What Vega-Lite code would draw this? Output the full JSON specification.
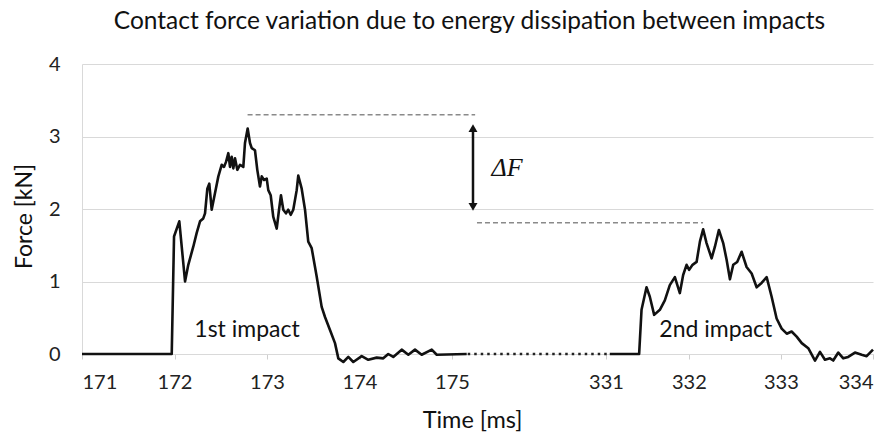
{
  "$schema": "https://vega.github.io/schema/vega-lite/v6.json",
  "width": 791,
  "height": 290,
  "autosize": {"type": "none"},
  "padding": {"left": 82, "top": 64, "right": 12, "bottom": 79},
  "title": {
    "text": "Contact force variation due to energy dissipation between impacts",
    "font": "Lato", "fontSize": 24.5, "fontWeight": "normal", "color": "#111",
    "anchor": "middle", "dx": -8, "offset": 20
  },
  "config": {"view": {"stroke": null}},
  "datasets": {
    "curve": [
      {"t": 171, "F": 0, "impact": "1st"},
      {"t": 171.97, "F": 0, "impact": "1st"},
      {"t": 171.995, "F": 1.62, "impact": "1st"},
      {"t": 172.052, "F": 1.83, "impact": "1st"},
      {"t": 172.114, "F": 1.0, "impact": "1st"},
      {"t": 172.149, "F": 1.23, "impact": "1st"},
      {"t": 172.203, "F": 1.48, "impact": "1st"},
      {"t": 172.24, "F": 1.67, "impact": "1st"},
      {"t": 172.276, "F": 1.83, "impact": "1st"},
      {"t": 172.311, "F": 1.87, "impact": "1st"},
      {"t": 172.33, "F": 1.94, "impact": "1st"},
      {"t": 172.355, "F": 2.28, "impact": "1st"},
      {"t": 172.376, "F": 2.35, "impact": "1st"},
      {"t": 172.402, "F": 1.99, "impact": "1st"},
      {"t": 172.438, "F": 2.22, "impact": "1st"},
      {"t": 172.474, "F": 2.45, "impact": "1st"},
      {"t": 172.51, "F": 2.61, "impact": "1st"},
      {"t": 172.535, "F": 2.58, "impact": "1st"},
      {"t": 172.557, "F": 2.65, "impact": "1st"},
      {"t": 172.582, "F": 2.77, "impact": "1st"},
      {"t": 172.6, "F": 2.58, "impact": "1st"},
      {"t": 172.618, "F": 2.72, "impact": "1st"},
      {"t": 172.636, "F": 2.56, "impact": "1st"},
      {"t": 172.654, "F": 2.7, "impact": "1st"},
      {"t": 172.679, "F": 2.54, "impact": "1st"},
      {"t": 172.708, "F": 2.61, "impact": "1st"},
      {"t": 172.744, "F": 2.58, "impact": "1st"},
      {"t": 172.762, "F": 2.91, "impact": "1st"},
      {"t": 172.791, "F": 3.11, "impact": "1st"},
      {"t": 172.816, "F": 2.91, "impact": "1st"},
      {"t": 172.835, "F": 2.84, "impact": "1st"},
      {"t": 172.87, "F": 2.81, "impact": "1st"},
      {"t": 172.895, "F": 2.54, "impact": "1st"},
      {"t": 172.924, "F": 2.31, "impact": "1st"},
      {"t": 172.943, "F": 2.45, "impact": "1st"},
      {"t": 172.968, "F": 2.4, "impact": "1st"},
      {"t": 172.997, "F": 2.42, "impact": "1st"},
      {"t": 173.014, "F": 2.26, "impact": "1st"},
      {"t": 173.04, "F": 2.19, "impact": "1st"},
      {"t": 173.068, "F": 1.89, "impact": "1st"},
      {"t": 173.105, "F": 1.73, "impact": "1st"},
      {"t": 173.13, "F": 1.99, "impact": "1st"},
      {"t": 173.151, "F": 2.19, "impact": "1st"},
      {"t": 173.176, "F": 1.99, "impact": "1st"},
      {"t": 173.205, "F": 1.94, "impact": "1st"},
      {"t": 173.23, "F": 1.99, "impact": "1st"},
      {"t": 173.256, "F": 1.92, "impact": "1st"},
      {"t": 173.284, "F": 1.99, "impact": "1st"},
      {"t": 173.321, "F": 2.26, "impact": "1st"},
      {"t": 173.338, "F": 2.46, "impact": "1st"},
      {"t": 173.375, "F": 2.28, "impact": "1st"},
      {"t": 173.411, "F": 1.99, "impact": "1st"},
      {"t": 173.446, "F": 1.55, "impact": "1st"},
      {"t": 173.483, "F": 1.46, "impact": "1st"},
      {"t": 173.537, "F": 1.07, "impact": "1st"},
      {"t": 173.591, "F": 0.65, "impact": "1st"},
      {"t": 173.627, "F": 0.51, "impact": "1st"},
      {"t": 173.681, "F": 0.33, "impact": "1st"},
      {"t": 173.735, "F": 0.15, "impact": "1st"},
      {"t": 173.771, "F": -0.06, "impact": "1st"},
      {"t": 173.825, "F": -0.11, "impact": "1st"},
      {"t": 173.879, "F": -0.04, "impact": "1st"},
      {"t": 173.933, "F": -0.11, "impact": "1st"},
      {"t": 174.024, "F": -0.03, "impact": "1st"},
      {"t": 174.095, "F": -0.08, "impact": "1st"},
      {"t": 174.186, "F": -0.05, "impact": "1st"},
      {"t": 174.257, "F": -0.06, "impact": "1st"},
      {"t": 174.311, "F": 0, "impact": "1st"},
      {"t": 174.365, "F": -0.04, "impact": "1st"},
      {"t": 174.456, "F": 0.06, "impact": "1st"},
      {"t": 174.528, "F": -0.01, "impact": "1st"},
      {"t": 174.6, "F": 0.06, "impact": "1st"},
      {"t": 174.672, "F": -0.01, "impact": "1st"},
      {"t": 174.781, "F": 0.06, "impact": "1st"},
      {"t": 174.835, "F": -0.01, "impact": "1st"},
      {"t": 175.159, "F": 0, "impact": "1st"},
      {"t": 331.141, "F": 0, "impact": "2nd"},
      {"t": 331.46, "F": 0, "impact": "2nd"},
      {"t": 331.486, "F": 0.61, "impact": "2nd"},
      {"t": 331.54, "F": 0.92, "impact": "2nd"},
      {"t": 331.576, "F": 0.79, "impact": "2nd"},
      {"t": 331.623, "F": 0.54, "impact": "2nd"},
      {"t": 331.685, "F": 0.61, "impact": "2nd"},
      {"t": 331.739, "F": 0.74, "impact": "2nd"},
      {"t": 331.793, "F": 0.95, "impact": "2nd"},
      {"t": 331.848, "F": 1.06, "impact": "2nd"},
      {"t": 331.902, "F": 0.84, "impact": "2nd"},
      {"t": 331.938, "F": 1.09, "impact": "2nd"},
      {"t": 331.975, "F": 1.23, "impact": "2nd"},
      {"t": 332.003, "F": 1.16, "impact": "2nd"},
      {"t": 332.04, "F": 1.23, "impact": "2nd"},
      {"t": 332.084, "F": 1.27, "impact": "2nd"},
      {"t": 332.12, "F": 1.55, "impact": "2nd"},
      {"t": 332.155, "F": 1.72, "impact": "2nd"},
      {"t": 332.192, "F": 1.53, "impact": "2nd"},
      {"t": 332.247, "F": 1.32, "impact": "2nd"},
      {"t": 332.283, "F": 1.48, "impact": "2nd"},
      {"t": 332.326, "F": 1.71, "impact": "2nd"},
      {"t": 332.373, "F": 1.53, "impact": "2nd"},
      {"t": 332.41, "F": 1.3, "impact": "2nd"},
      {"t": 332.446, "F": 1.03, "impact": "2nd"},
      {"t": 332.482, "F": 1.23, "impact": "2nd"},
      {"t": 332.525, "F": 1.27, "impact": "2nd"},
      {"t": 332.573, "F": 1.41, "impact": "2nd"},
      {"t": 332.627, "F": 1.2, "impact": "2nd"},
      {"t": 332.682, "F": 1.11, "impact": "2nd"},
      {"t": 332.736, "F": 0.92, "impact": "2nd"},
      {"t": 332.79, "F": 0.98, "impact": "2nd"},
      {"t": 332.845, "F": 1.06, "impact": "2nd"},
      {"t": 332.899, "F": 0.79, "impact": "2nd"},
      {"t": 332.953, "F": 0.49, "impact": "2nd"},
      {"t": 333.008, "F": 0.35, "impact": "2nd"},
      {"t": 333.063, "F": 0.28, "impact": "2nd"},
      {"t": 333.116, "F": 0.31, "impact": "2nd"},
      {"t": 333.171, "F": 0.24, "impact": "2nd"},
      {"t": 333.226, "F": 0.15, "impact": "2nd"},
      {"t": 333.297, "F": 0.08, "impact": "2nd"},
      {"t": 333.37, "F": -0.09, "impact": "2nd"},
      {"t": 333.424, "F": 0.03, "impact": "2nd"},
      {"t": 333.478, "F": -0.08, "impact": "2nd"},
      {"t": 333.533, "F": -0.06, "impact": "2nd"},
      {"t": 333.568, "F": -0.09, "impact": "2nd"},
      {"t": 333.623, "F": 0.02, "impact": "2nd"},
      {"t": 333.677, "F": -0.06, "impact": "2nd"},
      {"t": 333.731, "F": -0.04, "impact": "2nd"},
      {"t": 333.804, "F": 0.02, "impact": "2nd"},
      {"t": 333.877, "F": -0.01, "impact": "2nd"},
      {"t": 333.931, "F": -0.03, "impact": "2nd"},
      {"t": 334.0, "F": 0.06, "impact": "2nd"}
    ],
    "gap": [
      {"t": 175.17, "F": 0},
      {"t": 331.13, "F": 0}
    ],
    "levels": [
      {"t": 172.79, "t2": 175.25, "F": 3.3},
      {"t": 175.27, "t2": 332.154, "F": 1.81}
    ],
    "arrow": [
      {"t": 175.227, "F": 3.117, "F2": 2.028}
    ],
    "labels": [
      {"t": 172.784, "F": 0.239, "label": "1st impact"},
      {"t": 332.293, "F": 0.239, "label": "2nd impact"}
    ],
    "delta": [
      {"t": 175.595, "F": 2.455, "label": "ΔF"}
    ]
  },
  "layer": [
    {
      "data": {"name": "curve"},
      "mark": {"type": "line", "color": "#111", "strokeWidth": 2.6, "strokeJoin": "round"},
      "encoding": {
        "x": {
          "field": "t", "type": "quantitative",
          "scale": {"domain": [171, 175.6, 331.1, 334], "range": [0, 425.5, 524, 791], "zero": false, "nice": false},
          "axis": {
            "title": "Time [ms]",
            "values": [171, 172, 173, 174, 175, 331, 332, 333, 334],
            "format": "d",
            "grid": false,
            "domainColor": "#d9d9d9",
            "tickColor": "#cfcfcf",
            "tickSize": 5,
            "labelFont": "Lato", "labelFontSize": 20, "labelColor": "#222",
            "labelPadding": 13, "labelDx": -4,
            "titleFont": "Lato", "titleFontSize": 23.5, "titleFontWeight": "normal", "titleColor": "#111",
            "titleX": 390, "titleY": 73, "titleBaseline": "alphabetic", "titleAlign": "center"
          }
        },
        "y": {
          "field": "F", "type": "quantitative",
          "scale": {"domain": [0, 4], "nice": false, "zero": false},
          "axis": {
            "title": "Force [kN]",
            "values": [0, 1, 2, 3, 4],
            "format": "d",
            "grid": true, "gridColor": "#d9d9d9",
            "domainColor": "#d9d9d9",
            "ticks": false,
            "labelFont": "Lato", "labelFontSize": 20, "labelColor": "#222",
            "labelPadding": 22,
            "titleFont": "Lato", "titleFontSize": 23, "titleFontWeight": "normal", "titleColor": "#111",
            "titleX": -58, "titleY": 152, "titleAngle": -90, "titleBaseline": "middle", "titleAlign": "center"
          }
        },
        "detail": {"field": "impact", "type": "nominal"}
      }
    },
    {
      "data": {"name": "gap"},
      "mark": {"type": "line", "color": "#222", "strokeWidth": 2.4, "strokeDash": [2.5, 4], "strokeCap": "butt"},
      "encoding": {
        "x": {"field": "t", "type": "quantitative"},
        "y": {"field": "F", "type": "quantitative"}
      }
    },
    {
      "data": {"name": "levels"},
      "mark": {"type": "rule", "color": "#8a8a8a", "strokeWidth": 1.5, "strokeDash": [5, 3]},
      "encoding": {
        "x": {"field": "t", "type": "quantitative"},
        "x2": {"field": "t2"},
        "y": {"field": "F", "type": "quantitative"}
      }
    },
    {
      "data": {"name": "arrow"},
      "mark": {"type": "rule", "color": "#111", "strokeWidth": 2.5},
      "encoding": {
        "x": {"field": "t", "type": "quantitative"},
        "y": {"field": "F", "type": "quantitative"},
        "y2": {"field": "F2"}
      }
    },
    {
      "data": {"name": "arrow"},
      "mark": {"type": "point", "shape": "triangle-up", "filled": true, "color": "#111", "size": 80, "opacity": 1},
      "encoding": {
        "x": {"field": "t", "type": "quantitative"},
        "y": {"field": "F", "type": "quantitative"}
      }
    },
    {
      "data": {"name": "arrow"},
      "mark": {"type": "point", "shape": "triangle-down", "filled": true, "color": "#111", "size": 80, "opacity": 1},
      "encoding": {
        "x": {"field": "t", "type": "quantitative"},
        "y": {"field": "F2", "type": "quantitative"}
      }
    },
    {
      "data": {"name": "labels"},
      "mark": {"type": "text", "font": "Lato", "fontSize": 23, "color": "#111", "align": "center", "baseline": "alphabetic"},
      "encoding": {
        "x": {"field": "t", "type": "quantitative"},
        "y": {"field": "F", "type": "quantitative"},
        "text": {"field": "label"}
      }
    },
    {
      "data": {"name": "delta"},
      "mark": {"type": "text", "font": "Liberation Serif", "fontStyle": "italic", "fontSize": 26, "color": "#111", "align": "center", "baseline": "alphabetic"},
      "encoding": {
        "x": {"field": "t", "type": "quantitative"},
        "y": {"field": "F", "type": "quantitative"},
        "text": {"field": "label"}
      }
    }
  ]
}
